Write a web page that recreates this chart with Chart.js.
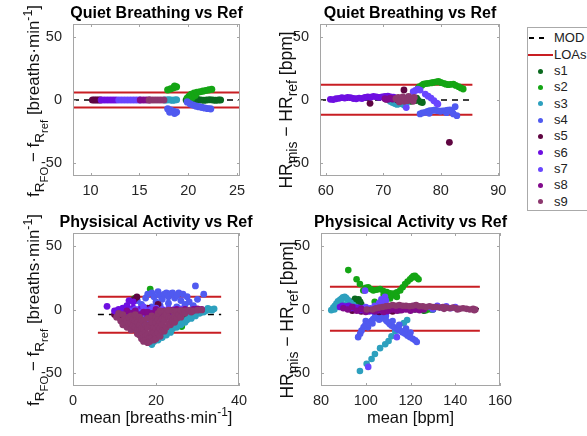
<!DOCTYPE html>
<html>
<head>
<meta charset="utf-8">
<script src="https://cdn.jsdelivr.net/npm/chart.js@4.4.1/dist/chart.umd.min.js"></script>
<style>
  body { margin: 0; width: 587px; height: 436px; overflow: hidden; background: #fff; position: relative;
         font-family: "Liberation Sans", Arial, sans-serif; }
  canvas { position: absolute; }
  #legend { position: absolute; left: 527px; top: 27px; width: 80px; height: 182px; border: 1px solid #aaa; background: #fff; }
  #legend .row { position: absolute; left: 0; height: 16px; line-height: 16px; font-size: 13px; color: #222; }
  #legend .txt { position: absolute; left: 26px; top: 0; white-space: nowrap; }
  #legend .dot { position: absolute; left: 10px; top: 5.5px; width: 5px; height: 5px; border-radius: 50%; }
</style>
</head>
<body>
<canvas id="qbResp" width="255" height="210" style="left:0;top:0"></canvas>
<canvas id="qbHR" width="270" height="210" style="left:255px;top:0"></canvas>
<canvas id="paResp" width="255" height="226" style="left:0;top:210px"></canvas>
<canvas id="paHR" width="270" height="226" style="left:255px;top:210px"></canvas>
<div id="legend"></div>
<script>
// subjects and colours
var subjects = ['s1', 's2', 's3', 's4', 's5', 's6', 's7', 's8', 's9'];
var colores = ['rgb(10,105,30)', 'rgb(20,165,20)', 'rgb(45,160,190)', 'rgb(80,90,240)', 'rgb(95,5,65)',
               'rgb(110,15,225)', 'rgb(105,70,255)', 'rgb(130,10,140)', 'rgb(140,55,110)'];

// tick labels
var ticksY = [-50, 0, 50];
var ticksQbResp = [10, 15, 20, 25];
var ticksQbHR = [60, 70, 80, 90];
var ticksPaResp = [0, 20, 40];
var ticksPaHR = [80, 100, 120, 140, 160];

// mean of differences and limits of agreement: [MOD, upper LOA, lower LOA]
var statsQbResp = [0, 6, -6];
var statsQbHR = [0, 12.1, -11.6];
var statsPaResp = [-4, 10, -18.2];
var statsPaHR = [0.5, 17.8, -16.6];

// Quiet breathing, respiratory rate: [mean, difference] per subject
var qbResp = [
  [[19.8,0],[20.1,0.2],[20.4,-0.2],[20.7,0],[21.0,0.3],[21.3,0],[21.6,-0.2],[21.9,0],[22.2,0.2],[22.5,0],[22.8,-0.2],[23.1,0],[23.3,0]],
  [[17.9,8],[18.2,8.8],[18.5,9.6],[18.8,10.4],[18.6,11],[19.9,1.5],[20.1,3],[20.3,4.5],[20.4,2],[20.6,5.5],[20.7,3.5],[20.9,6],[21.2,6.5],[21.5,7],[21.8,7.5],[22.1,8],[22.4,8.5]],
  [[17.6,0],[17.8,0],[18.0,0.2],[18.2,0],[18.4,-0.2],[18.6,0],[18.8,0.2]],
  [[17.9,-7],[18.2,-8],[18.5,-9],[18.8,-9.5],[18.6,-10.5],[18.1,-9.5],[19.9,-1.5],[20.2,-3],[20.5,-4],[20.8,-4.8],[21.1,-5.3],[21.4,-5.8],[21.7,-6.3],[22.0,-6.7],[22.3,-7]],
  [[10.2,0],[10.4,0],[10.6,0],[10.8,0],[11.0,0]],
  [[11.1,0],[11.4,0],[11.7,0],[12.0,0],[12.3,0],[12.6,0]],
  [[12.9,0],[13.2,0],[13.5,0],[13.8,0],[14.1,0],[14.4,0],[14.7,0],[15.0,0]],
  [[15.1,0],[15.4,0],[15.7,0],[16.0,0]],
  [[16.0,0],[16.3,0],[16.6,0],[16.9,0],[17.2,0],[17.5,0]]
];

// Quiet breathing, heart rate
var qbHR = [
  [[74.5,0.5],[74.8,-1],[75.0,1],[75.5,-0.5],[75.8,1.5],[76.0,0],[76.5,-1.5],[76.8,-2]],
  [[76.1,9.5],[76.3,10.5],[76.7,11.5],[77.0,12.6],[77.4,13],[77.8,13.2],[78.3,13.5],[78.7,13.9],[79.2,14.3],[79.6,14.7],[80.0,13.8],[80.5,13.2],[80.9,12.5],[81.3,12.1],[81.7,12.3],[82.2,12.6],[82.6,11.5],[83.1,10.5],[83.5,9.5],[83.9,8.7]],
  [[71.2,-1],[71.6,-2],[71.8,-0.5],[72.0,-2.8],[72.4,-3.5],[72.8,-3],[73.2,-2.5],[73.6,-4],[74.0,-3]],
  [[76.4,-11],[76.8,-10.2],[77.3,-9.7],[77.7,-9],[78.0,-10.5],[78.1,-8.4],[78.6,-8.2],[79.0,-7.9],[79.4,-8.5],[79.9,-8.9],[80.3,-8.6],[80.8,-8.4],[81.0,-10],[81.2,-8],[81.6,-7.9],[82.0,-9.5],[82.2,-11],[82.8,-12.4],[82.5,-5.3]],
  [[67.7,-2.6],[73.6,7.9],[81.5,-33.4],[70.5,0.5],[71.5,1],[72.5,0]],
  [[60.8,0.5],[61.3,0.3],[61.8,1],[62.3,1.3],[62.8,1.8],[63.3,1.5],[63.8,2],[64.3,1.8],[64.8,1.2],[65.3,1],[65.8,1.5],[66.3,1.2],[66.8,2],[67.3,2.5],[67.8,2.2],[68.3,2.8],[68.8,2.5],[69.3,2],[69.8,2.5],[70.3,2.8],[70.8,3],[71.3,2.5],[71.8,2.2]],
  [[74.0,-6],[75.2,6.5],[75.6,7.5],[76.0,8.5],[76.4,7.8],[77.3,4.7],[77.8,3],[78.3,1.5],[78.8,-0.5],[79.3,-2.5],[79.5,-3.2]],
  [[70.3,1],[70.8,0.5],[71.2,1.5],[71.7,0.8],[72.2,1.2],[72.7,0.5],[73.2,1]],
  [[72.2,1],[72.6,2],[72.8,-1.5],[73.0,0],[73.4,2.5],[73.6,-1],[73.8,1],[74.2,-0.5],[74.4,2.8],[74.6,1.5],[75.0,0.5],[75.2,-1],[75.4,2]]
];

// Physical activity, respiratory rate
var paResp = [
  [[12,-4],[13.5,-3],[27.5,-6],[30,-2]],
  [[18.6,16],[14.6,8],[15,9],[29.2,-4],[25.6,-9.4],[26.2,-13.4],[28.5,-3],[24,-12]],
  [[19,-27.5],[19.5,-25],[20.5,-24],[21,-20],[21.5,-22],[22,-18],[22.5,-20],[23,-16],[23.5,-18],[24,-15],[24.5,-13],[25,-14],[25.5,-11],[26,-12],[26.5,-9],[27,-10],[27.5,-8],[28,-5],[28.5,-7],[29,-3],[29.5,-5],[30,-1.5],[30.5,-3],[31,-0.5],[31.5,-2],[32,-1],[32.5,0.8],[33,0],[33.5,-0.5],[34,0.5]],
  [[15.5,7],[16.5,4],[17.5,9],[18,12],[19,13],[19.5,10],[20,6],[20.5,14],[21,11],[21.5,8],[22,12],[22.5,13],[23,10],[23.5,12.5],[24,13],[24.5,9],[25,11],[25.5,13],[26,7],[26.5,12],[27,4],[27.5,10],[28,6],[29.5,18.5],[31.5,12],[30,8],[29,3],[21,3],[23,5],[25,2],[19,2],[17,1],[14,-10],[13.5,-13],[15,-15],[16,-12],[12.5,-12],[12,-9]],
  [[10,-4],[10.5,-1],[11,-3],[11,-6],[11.5,-5],[12,-2],[12,-6.5],[12.5,0],[13,-4],[15.4,9.8],[14.8,8],[20.5,4],[21,-2],[18,1],[16,-1]],
  [[8.2,2.5],[10,-1],[10.5,-2],[11,0],[11.5,-3],[12,1],[12.5,-1],[13,-2],[13,3],[13.5,0],[13.5,7],[14,-4],[14.5,1],[14.5,6],[15,-2],[15.5,-5],[16,0],[16.5,-3],[17,-6],[17.5,-1],[18,-4],[18.5,0],[19,-8],[19.5,-2],[20,-5],[21,-1],[22,-3]],
  [[14,-1],[15,0],[15.5,-12],[16,-2],[16.5,-11],[17,-4],[17,2],[17.5,-8],[18,-1],[18.5,-10],[19,0],[19.5,-6],[20,1],[20.5,-3],[21,-8],[21.5,0],[22,-2],[22.5,-6],[23,0.5],[23.5,-4],[24,-2],[24.5,0],[25,-3],[25.5,-1],[26,0.5]],
  [[13,-1],[14,-3],[15,-1],[16,-4],[17,-2],[18,-5],[18,-2],[19,-3],[20,-2],[20,0],[21,-4],[22,-1],[23,-3],[24,-0.5],[25,0],[26,-1],[27,0],[28,-1],[29,0],[30,0.5],[31,0]],
  [[10.5,-6],[11,-3],[11.5,-9],[12,-4],[12,-12],[12.5,-7],[13,-9],[13,-14],[13.5,-6],[13.5,-11],[14,-5],[14,-11],[14,-16],[14.5,-8],[14.5,-13],[15,-4],[15,-9],[15,-14],[15.5,-10],[15.5,-16],[15.5,-19],[16,-6],[16,-12],[16,-17],[16,-20],[16.5,-8],[16.5,-15],[16.5,-20],[16.5,-23],[17,-9],[17,-15],[17,-22],[17,-25],[17.5,-12],[17.5,-18],[17.5,-21],[17.5,-24],[18,-7],[18,-14],[18,-20],[18,-24],[18,-26],[18.5,-12],[18.5,-22],[18.5,-25],[19,-5],[19,-10],[19,-17],[19,-20],[19,-22],[19.5,-14],[19.5,-18],[19.5,-24],[20,-6],[20,-10],[20,-15],[20,-20],[20,-23],[20.5,-3],[20.5,-8],[20.5,-13],[20.5,-18],[21,-1],[21,-10],[21,-15],[21,-21],[21.5,-7],[21.5,-12],[21.5,-17],[22,-1.5],[22,-5],[22,-8],[22,-17],[22.5,-3],[22.5,-4],[22.5,-14],[23,-0.5],[23,-6],[23,-11],[23.5,-7],[23.5,-12],[24,-1],[24,-9],[24.5,-2.5],[24.5,-5],[24.5,-10],[25,-1.5],[25,-7],[25.5,-4],[26,-0.8],[26,-6],[26.5,-2.5],[27,-1],[27,-3],[28,-0.5],[28.5,-2],[29,-1],[30,-0.5],[31,-0.3]]
];

// Physical activity, heart rate
var paHR = [
  [[94.5,6.5],[95.2,8.4],[96,7],[96.8,8],[97.5,6],[98,4],[110,0.5],[115,-0.5],[118,1],[122,0],[126,-1],[130,0]],
  [[92.2,30.9],[95.9,23.7],[97.4,20],[98.9,14.9],[100,17],[101.1,17.4],[102.2,16],[103.4,15],[104,6],[104.9,15.5],[106.4,16],[107.9,14.5],[108,11.5],[109.4,13.7],[110.9,12.8],[110.9,8.6],[112,11],[112.4,12.5],[113.9,13.5],[113.9,9.9],[115.4,15],[116.5,17.5],[117.6,20],[118.7,22],[119.8,23.7],[120.6,25],[121.3,26.3],[122,26.5],[122.8,25],[123.6,23.7],[125,0],[127,-0.5],[129,0]],
  [[84.6,-0.5],[85.5,1.5],[86,0],[86.2,3],[86.9,4.6],[87.6,6.5],[88,2],[88.4,7.5],[89.1,8.4],[89.8,9.5],[90,4],[90.6,9.9],[91.3,9],[92,3],[92.1,7.4],[93.2,5.5],[94.3,3.6],[95.5,2],[97,1],[99,0.5],[101,-0.5],[103,0],[97.4,-48.2],[100.4,-42.6],[102.6,-38.8],[104.1,-34.9],[106.4,-30.3],[108.7,-27.3],[110.2,-24.7],[111.5,-21],[113.2,-17.1],[114.7,-14.5],[117,-10.7],[118.5,-8.2]],
  [[96.6,-21.7],[97.5,-19],[98.1,-16.6],[99,-14],[99.6,-12.8],[100,-9],[100.3,-12],[101,-14],[101.1,-11.5],[101.8,-10],[102.6,-8.9],[103,-11],[103.3,-7.5],[104,-3],[104.1,-6.4],[104.8,-5],[105.6,-3.8],[106,-8],[106.3,-4.5],[107.1,-5.1],[107.8,-6.5],[108.6,-7.6],[109,-5],[109.3,-9],[110.1,-10.2],[110.8,-11.5],[111.6,-12.8],[112,-9],[112.7,-14],[113.9,-15.3],[114.6,-16],[115,-12],[115.4,-16.6],[116.5,-18],[117.6,-19.1],[118,-15],[118.7,-20.5],[119.8,-21.7],[120,-18],[121,-23],[122.1,-24.2],[122.8,-25.5],[115,1],[120,0.5],[125,1.5],[130,0],[132,2],[135,1]],
  [[92,1],[94,-1],[96,0.5],[98,-1.5],[100,0],[102,-1],[104,0.5],[106,-2],[108,-1],[110,0],[112,-1.5],[114,0]],
  [[88.5,2],[89.5,3],[90.5,1.5],[91.5,2.5],[92.5,3],[93.5,1],[94.5,2],[95.5,0.5],[96.5,1.5],[97.5,-0.5],[98.5,1],[99.5,-1],[100.5,0],[101.5,-1.5],[102.5,0],[103.5,-1],[104.5,0.5],[105.5,-0.5],[106.5,1],[107.5,-1],[108.5,0],[109.5,-1.5],[110.5,0]],
  [[99.7,14.8],[101.1,-45],[106,5],[107,8],[108.6,10],[109,7],[113.9,-21.7],[100,2],[102,1],[104,3],[106,2],[108,4],[110,1],[112,3],[114,2],[116,0],[118,2],[120,1],[122,3],[124,2],[126,0.5],[128,2],[130,1],[132,3],[134,1.5],[136,2.5],[138,1],[140,2]],
  [[90,1],[92,0],[94,2],[96,-1],[98,0.5],[100,-2],[102,-0.5],[104,-1.5],[106,0],[108,-2],[110,-1],[112,0],[114,-1],[116,-0.5],[118,0],[120,-1],[122,0],[124,-0.5],[126,0]],
  [[100.5,0],[103,0],[104.5,1],[106,1.5],[107.5,2],[109,2.5],[110.5,3],[112,3.5],[113.5,3],[115,3.5],[116.5,3],[118,3],[119.5,2.5],[121,3],[122.5,3.5],[124,2.5],[125.5,2.5],[127,2],[128.5,2.5],[130,2],[131.5,2],[133,1.5],[134.5,2],[135,0.5],[136,1.5],[137.5,1],[139,1.5],[140.5,1],[141,0],[142,0.5],[143.5,1],[145,0.5],[146.5,0],[148,0.5],[148.5,-0.5],[149,0]]
];

var FUENTE = '"Liberation Sans", Arial, sans-serif';

// text with sub/superscripts: level 0 normal, 1 sub, 2 sub-sub, -1 super
function textoRico(ctx, partes, x, y, size, rotar) {
    var escala = { '0': 1, '1': 0.8, '2': 0.66, '-1': 0.72 };
    var desp = { '0': 0, '1': 0.27, '2': 0.5, '-1': -0.42 };
    ctx.save();
    ctx.translate(x, y);
    if (rotar) ctx.rotate(-Math.PI / 2);
    ctx.textBaseline = 'alphabetic';
    ctx.textAlign = 'left';
    ctx.fillStyle = '#111';
    var total = 0;
    partes.forEach(function (p) {
        ctx.font = (size * escala[p[1]]) + 'px ' + FUENTE;
        total += ctx.measureText(p[0]).width;
    });
    var cx = -total / 2;
    partes.forEach(function (p) {
        ctx.font = (size * escala[p[1]]) + 'px ' + FUENTE;
        ctx.fillText(p[0], cx, desp[p[1]] * size);
        cx += ctx.measureText(p[0]).width;
    });
    ctx.restore();
}

var etiquetaResp = [['f', 0], ['R', 1], ['FO', 2], [' \u2212 f', 0], ['R', 1], ['ref', 2], [' [breaths\u00b7min', 0], ['-1', -1], [']', 0]];
var etiquetaHR = [['HR', 0], ['mis', 1], [' \u2212 HR', 0], ['ref', 1], [' [bpm]', 0]];
var ejeXResp = [['mean [breaths\u00b7min', 0], ['-1', -1], [']', 0]];
var ejeXHR = [['mean [bpm]', 0]];

function crearGrafica(id, area, rango, ticksX, stats, puntos, titulo, etiquetaY, ylab, ejeX) {
    var canvas = document.getElementById(id);
    var W = canvas.width, H = canvas.height;
    var datasets = [];

    datasets.push({
        type: 'line', data: [{ x: rango.span[0], y: stats[0] }, { x: rango.span[1], y: stats[0] }],
        borderColor: '#000', borderWidth: 1.5, borderDash: [6, 5], pointRadius: 0, order: 30
    });
    [stats[1], stats[2]].forEach(function (v) {
        datasets.push({
            type: 'line', data: [{ x: rango.span[0], y: v }, { x: rango.span[1], y: v }],
            borderColor: 'rgb(200,30,35)', borderWidth: 2, pointRadius: 0, order: 20
        });
    });
    subjects.forEach(function (s, i) {
        datasets.push({
            label: s,
            data: puntos[i].map(function (p) { return { x: p[0], y: p[1] }; }),
            backgroundColor: colores[i], borderWidth: 0, pointRadius: rango.r, order: 9 - i
        });
    });

    var marco = {
        id: 'marco',
        afterDraw: function (chart) {
            var ctx = chart.ctx, a = chart.chartArea;
            ctx.save();
            ctx.strokeStyle = '#a5a5a5';
            ctx.lineWidth = 1;
            ctx.strokeRect(Math.round(a.left) + 0.5, Math.round(a.top) + 0.5,
                Math.round(a.right - a.left) - 1, Math.round(a.bottom - a.top) - 1);
            ctx.beginPath();
            chart.scales.x.ticks.forEach(function (t) {
                var px = Math.round(chart.scales.x.getPixelForValue(t.value)) + 0.5;
                ctx.moveTo(px, a.bottom); ctx.lineTo(px, a.bottom - 3);
                ctx.moveTo(px, a.top); ctx.lineTo(px, a.top + 3);
            });
            chart.scales.y.ticks.forEach(function (t) {
                var py = Math.round(chart.scales.y.getPixelForValue(t.value)) + 0.5;
                ctx.moveTo(a.left, py); ctx.lineTo(a.left + 3, py);
                ctx.moveTo(a.right, py); ctx.lineTo(a.right - 3, py);
            });
            ctx.stroke();
            ctx.restore();

            ctx.save();
            ctx.fillStyle = '#000';
            ctx.font = 'bold 16px ' + FUENTE;
            ctx.textAlign = 'center';
            ctx.textBaseline = 'alphabetic';
            ctx.fillText(titulo, (a.left + a.right) / 2, rango.tituloY);
            ctx.restore();

            textoRico(ctx, etiquetaY, ylab[0], ylab[1], ylab[2], true);
            if (ejeX) textoRico(ctx, ejeX, (a.left + a.right) / 2, 213, 16.5, false);
        }
    };

    return new Chart(canvas, {
        type: 'scatter',
        data: { datasets: datasets },
        options: {
            responsive: false,
            animation: false,
            events: [],
            layout: { padding: { left: 0, top: area.t, right: W - area.r, bottom: 0 } },
            plugins: { legend: { display: false }, tooltip: { enabled: false } },
            scales: {
                x: {
                    type: 'linear', min: rango.x[0], max: rango.x[1],
                    grid: { display: false }, border: { display: false },
                    afterBuildTicks: function (sc) { sc.ticks = ticksX.map(function (v) { return { value: v }; }); },
                    afterFit: function (sc) { sc.height = H - area.b; },
                    ticks: { autoSkip: false, maxRotation: 0, padding: 0, color: '#262626',
                             font: { family: FUENTE, size: 14.5, lineHeight: 1 } }
                },
                y: {
                    type: 'linear', min: -60, max: 60,
                    grid: { display: false }, border: { display: false },
                    afterBuildTicks: function (sc) { sc.ticks = ticksY.map(function (v) { return { value: v }; }); },
                    afterFit: function (sc) { sc.width = area.l; },
                    ticks: { padding: 3, color: '#262626', font: { family: FUENTE, size: 14.5 } }
                }
            }
        },
        plugins: [marco]
    });
}

crearGrafica('qbResp', { l: 73, t: 24, r: 240, b: 176 }, { x: [8.2, 25.3], span: [8.2, 25.3], r: 3.6, tituloY: 18 },
    ticksQbResp, statsQbResp, qbResp, 'Quiet Breathing vs Ref', etiquetaResp, [39, 101, 17], null);
crearGrafica('qbHR', { l: 65, t: 24, r: 245, b: 176 }, { x: [59, 90.3], span: [59, 85.5], r: 3.4, tituloY: 18 },
    ticksQbHR, statsQbHR, qbHR, 'Quiet Breathing vs Ref', etiquetaHR, [37, 110, 17.5], null);
crearGrafica('paResp', { l: 73, t: 23, r: 239, b: 176 }, { x: [0, 40], span: [6, 35.7], r: 3.4, tituloY: 17 },
    ticksPaResp, statsPaResp, paResp, 'Physisical Activity vs Ref', etiquetaResp, [39, 100, 17], ejeXResp);
crearGrafica('paHR', { l: 66, t: 23, r: 245, b: 176 }, { x: [80, 160], span: [84, 151], r: 3.3, tituloY: 17 },
    ticksPaHR, statsPaHR, paHR, 'Physisical Activity vs Ref', etiquetaHR, [38, 110, 17.5], ejeXHR);

// legend
var leyenda = document.getElementById('legend');
var filas = ['MOD', 'LOAs'].concat(subjects);
filas.forEach(function (nombre, i) {
    var fila = document.createElement('div');
    fila.className = 'row';
    fila.style.top = (2.3 + 16.35 * i) + 'px';
    var marca;
    if (i === 0) {
        marca = '<span style="position:absolute;left:1px;top:7px;width:5px;height:1.5px;background:#000"></span>' +
                '<span style="position:absolute;left:11px;top:7px;width:5px;height:1.5px;background:#000"></span>';
    } else if (i === 1) {
        marca = '<span style="position:absolute;left:0;top:7px;width:25px;height:2px;background:rgb(200,30,35)"></span>';
    } else {
        marca = '<span class="dot" style="background:' + colores[i - 2] + '"></span>';
    }
    fila.innerHTML = marca + '<span class="txt">' + nombre + '</span>';
    leyenda.appendChild(fila);
});
</script>
</body>
</html>
